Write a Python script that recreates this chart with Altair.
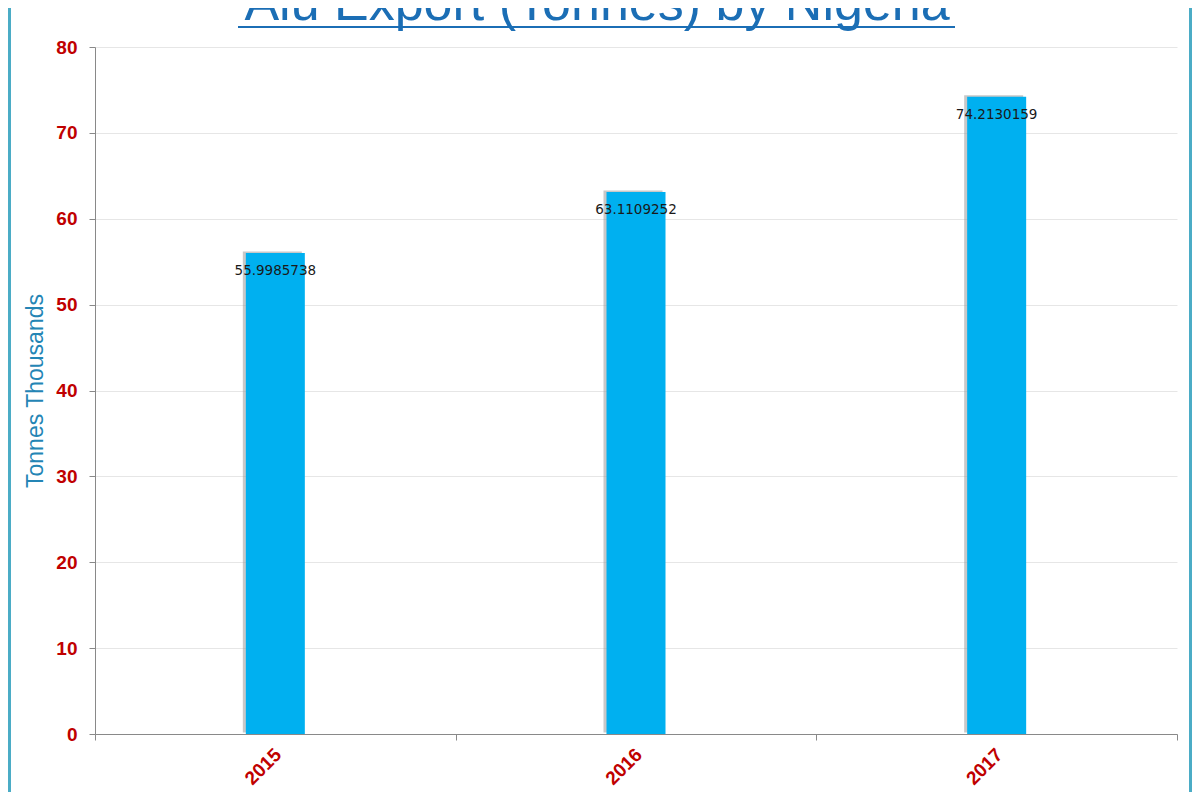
import altair as alt
import pandas as pd

years = ["2015", "2016", "2017"]
values = [55.9985738, 63.1109252, 74.2130159]
labels = ["55.9985738", "63.1109252", "74.2130159"]
title_text = "Alu Export (Tonnes) by Nigeria"
y_title = "Tonnes Thousands"

df = pd.DataFrame({"year": years, "value": values, "label": labels})

W, H = 1082, 687
RED = "#C00000"

x_enc = alt.X(
    "year:N",
    scale=alt.Scale(paddingInner=0, paddingOuter=0),
    axis=alt.Axis(
        title=None,
        labelAngle=-45,
        labelColor=RED,
        labelFontWeight="bold",
        labelFontSize=19,
        labelFont="Liberation Sans",
        labelPadding=5,
        labelOffset=-4,
        tickBand="extent",
        tickSize=6,
        tickColor="#898989",
        domainColor="#898989",
        grid=False,
    ),
)
y_enc = alt.Y(
    "value:Q",
    scale=alt.Scale(domain=[0, 80]),
    axis=alt.Axis(
        title=y_title,
        titleColor="#2485B5",
        titleFont="Liberation Sans",
        titleFontSize=23,
        titleFontWeight="normal",
        titlePadding=8,
        values=list(range(0, 81, 10)),
        labelColor=RED,
        labelFontWeight="bold",
        labelFontSize=19,
        labelFont="Liberation Sans",
        labelPadding=12,
        tickSize=6,
        tickColor="#898989",
        domainColor="#898989",
        gridColor="#E6E6E6",
        grid=True,
    ),
)

base = alt.Chart(df)

shadow = base.mark_bar(size=59, color="#9a9a9a", opacity=0.55, xOffset=-3, yOffset=-1.5).encode(
    x=x_enc, y=y_enc
)
bars = base.mark_bar(size=59, color="#00B0F0").encode(x=x_enc, y=y_enc)
text = base.mark_text(
    font="DejaVu Sans", fontSize=13.5, color="#1a1a1a", baseline="middle", dy=18
).encode(x=x_enc, y=y_enc, text="label:N")

title = alt.Chart(pd.DataFrame({"t": [title_text]})).mark_text(
    font="Liberation Sans", fontSize=52, color="#1B6EB5", align="center", baseline="alphabetic"
).encode(x=alt.value(502), y=alt.value(-27), text="t:N")
underline = alt.Chart(pd.DataFrame({"t": [title_text]})).mark_rule(
    color="#1B6EB5", strokeWidth=2
).encode(x=alt.value(143), x2=alt.value(860), y=alt.value(-20))

border = alt.Chart(pd.DataFrame({"t": [0]})).mark_rule(
    color="#4BACC6", strokeWidth=3
).encode(
    x=alt.value(-85.5),
    y=alt.value(-50),
    y2=alt.value(760),
)
border_r = alt.Chart(pd.DataFrame({"t": [0]})).mark_rule(
    color="#4BACC6", strokeWidth=3
).encode(
    x=alt.value(1095.5),
    y=alt.value(-50),
    y2=alt.value(760),
)

chart = (
    alt.layer(shadow, bars, text, title, underline, border, border_r)
    .properties(
        width=W,
        height=H,
        autosize=alt.AutoSizeParams(type="none"),
        padding={"left": 87, "top": 39, "right": 15, "bottom": 58},
        background="white",
    )
    .configure_view(stroke=None)
)

chart.save("out.html", embed_options={"renderer": "svg", "actions": False})
